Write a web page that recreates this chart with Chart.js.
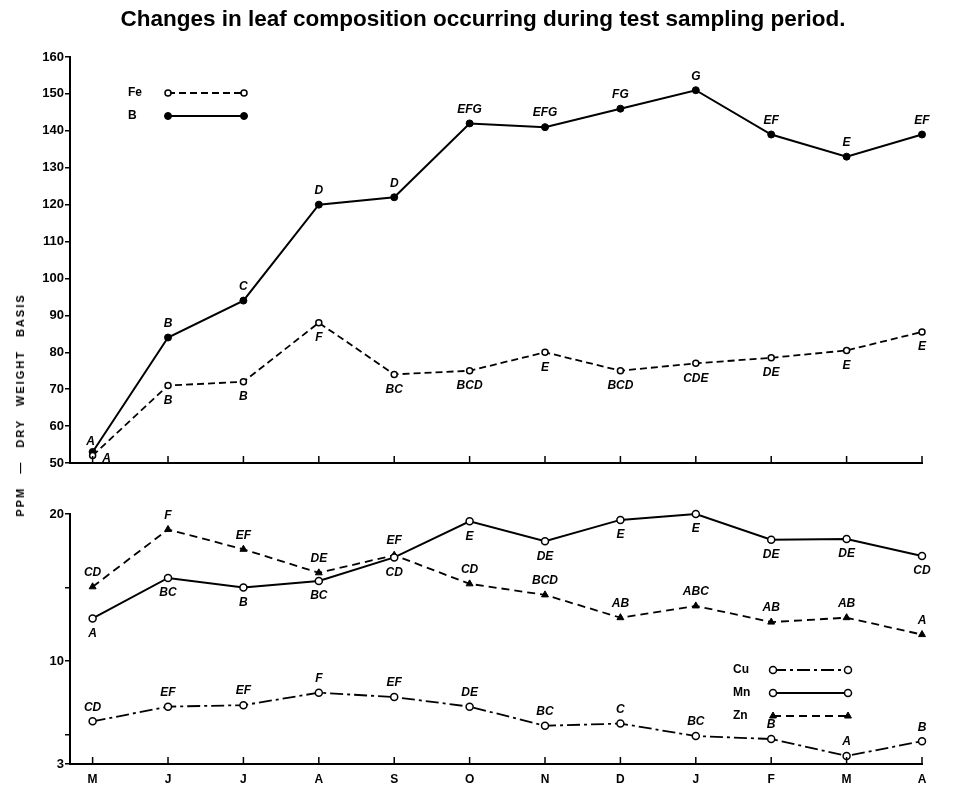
<!DOCTYPE html>
<html>
<head>
<meta charset="utf-8">
<script src="https://cdn.jsdelivr.net/npm/chart.js@4.4.1/dist/chart.umd.min.js"></script>
<style>
  body { margin: 0; background: #fff; }
  #wrap { position: relative; width: 954px; height: 788px; background: #fff; overflow: hidden; }
  #top { position: absolute; left: 0; top: 0; }
  #bottom { position: absolute; left: 0; top: 480px; }
  #title { position: absolute; left: 0; width: 966px; top: 6px; text-align: center;
           font: bold 22.5px 'Liberation Sans', Arial, sans-serif; color: #000; }
  #ytitle { position: absolute; left: 20px; top: 405px; transform: translate(-50%, -50%) rotate(-90deg);
            white-space: nowrap; font: bold 11px 'Liberation Sans', Arial, sans-serif;
            letter-spacing: 2px; word-spacing: 8px; color: #000; }
</style>
</head>
<body>
<div id="wrap">
  <canvas id="top" width="954" height="480"></canvas>
  <canvas id="bottom" width="954" height="308"></canvas>
  <div id="title">Changes in leaf composition occurring during test sampling period.</div>
  <div id="ytitle">PPM — DRY WEIGHT BASIS</div>
</div>
<script>
const months = ['M', 'J', 'J', 'A', 'S', 'O', 'N', 'D', 'J', 'F', 'M', 'A'];

// upper panel
const feValues = [52, 71, 72, 88, 74, 75, 80, 75, 77, 78.5, 80.5, 85.5];
const feLetters = ['A', 'B', 'B', 'F', 'BC', 'BCD', 'E', 'BCD', 'CDE', 'DE', 'E', 'E'];
const bValues = [53, 84, 94, 120, 122, 142, 141, 146, 151, 139, 133, 139];
const bLetters = ['A', 'B', 'C', 'D', 'D', 'EFG', 'EFG', 'FG', 'G', 'EF', 'E', 'EF'];
const upperTicks = [50, 60, 70, 80, 90, 100, 110, 120, 130, 140, 150, 160];
const upperTickLabels = ['50', '60', '70', '80', '90', '100', '110', '120', '130', '140', '150', '160'];

// lower panel
const cuValues = [5.9, 6.9, 7.0, 7.85, 7.55, 6.9, 5.6, 5.75, 4.9, 4.7, 3.55, 4.55];
const cuLetters = ['CD', 'EF', 'EF', 'F', 'EF', 'DE', 'BC', 'C', 'BC', 'B', 'A', 'B'];
const mnValues = [12.9, 15.65, 15.0, 15.45, 17.05, 19.5, 18.15, 19.6, 20.0, 18.25, 18.3, 17.15];
const mnLetters = ['A', 'BC', 'B', 'BC', 'CD', 'E', 'DE', 'E', 'E', 'DE', 'DE', 'CD'];
const znValues = [15.05, 18.95, 17.6, 16.0, 17.2, 15.25, 14.5, 12.95, 13.75, 12.65, 12.95, 11.8];
const znLetters = ['CD', 'F', 'EF', 'DE', 'EF', 'CD', 'BCD', 'AB', 'ABC', 'AB', 'AB', 'A'];
const lowerTicks = [3, 5, 10, 15, 20];
const lowerTickLabels = ['3', '', '10', '', '20'];

const FONT = "'Liberation Sans', Arial, sans-serif";
const pts = vals => vals.map((v, i) => ({ x: i, y: v }));

// letters of significance next to each point
const letterPlugin = {
  id: 'letters',
  afterDatasetsDraw(chart) {
    const ctx = chart.ctx;
    ctx.save();
    ctx.font = 'italic bold 12px ' + FONT;
    ctx.fillStyle = '#000';
    ctx.textAlign = 'center';
    ctx.textBaseline = 'middle';
    chart.data.datasets.forEach((ds, i) => {
      if (!ds.letters) return;
      chart.getDatasetMeta(i).data.forEach((p, j) => {
        const off = (ds.letterShift && ds.letterShift[j]) || [0, ds.letterSide === 'below' ? 15 : -14];
        ctx.fillText(ds.letters[j], p.x + off[0], p.y + off[1]);
      });
    });
    ctx.restore();
  }
};

// small tick marks pointing up from the month axis
const innerTicks = {
  id: 'innerTicks',
  afterDraw(chart) {
    const x = chart.scales.x, ctx = chart.ctx, b = chart.chartArea.bottom;
    ctx.save();
    ctx.strokeStyle = '#000';
    ctx.lineWidth = 1.5;
    x.ticks.forEach(t => {
      const px = x.getPixelForValue(t.value);
      ctx.beginPath();
      ctx.moveTo(px, b);
      ctx.lineTo(px, b - 7);
      ctx.stroke();
    });
    ctx.restore();
  }
};

// key drawn as a sample line with a marker at each end
const keyPlugin = {
  id: 'key',
  afterDraw(chart, args, opts) {
    const ctx = chart.ctx;
    ctx.save();
    chart.data.datasets.forEach((ds, i) => {
      const y = opts.y + i * opts.gap;
      ctx.font = 'bold 12px ' + FONT;
      ctx.fillStyle = '#000';
      ctx.textAlign = 'left';
      ctx.textBaseline = 'middle';
      ctx.fillText(ds.label, opts.x, y);
      ctx.strokeStyle = '#000';
      ctx.lineWidth = ds.borderWidth;
      ctx.setLineDash(ds.borderDash || []);
      ctx.beginPath();
      ctx.moveTo(opts.x1, y);
      ctx.lineTo(opts.x2, y);
      ctx.stroke();
      ctx.setLineDash([]);
      [opts.x1, opts.x2].forEach(px => {
        ctx.fillStyle = ds.pointBackgroundColor;
        ctx.strokeStyle = '#000';
        ctx.lineWidth = ds.pointBorderWidth;
        Chart.helpers.drawPoint(ctx, { pointStyle: ds.pointStyle, radius: ds.pointRadius,
          borderWidth: ds.pointBorderWidth, rotation: 0 }, px, y);
      });
    });
    ctx.restore();
  }
};

function makeOptions(yMin, yMax, yTicks, yLabels, padTop, xHeight, showMonths, key) {
  return {
    responsive: false,
    animation: false,
    layout: { padding: { top: padTop, right: 32, left: 0, bottom: 0 } },
    plugins: { legend: { display: false }, tooltip: { enabled: false }, key: key },
    scales: {
      x: {
        type: 'linear', min: -0.3, max: 11,
        afterBuildTicks: s => { s.ticks = months.map((m, i) => ({ value: i })); },
        afterFit: s => { s.height = xHeight; },
        grid: { drawOnChartArea: false, drawTicks: false },
        border: { display: true, color: '#000', width: 2 },
        ticks: { display: showMonths, callback: (v, i) => months[i], padding: 8,
                 autoSkip: false, maxRotation: 0, color: '#000', font: { family: FONT, size: 12, weight: 'bold' } }
      },
      y: {
        min: yMin, max: yMax,
        afterBuildTicks: s => { s.ticks = yTicks.map(v => ({ value: v })); },
        afterFit: s => { s.width = 70; },
        grid: { drawOnChartArea: false, drawTicks: true, tickLength: 5, color: '#000', lineWidth: 1.5 },
        border: { display: true, color: '#000', width: 2 },
        ticks: { callback: (v, i) => yLabels[i], padding: 1, autoSkip: false,
                 color: '#000', font: { family: FONT, size: 13, weight: 'bold' } }
      }
    }
  };
}

new Chart(document.getElementById('top'), {
  type: 'line',
  data: {
    datasets: [
      { label: 'Fe', data: pts(feValues), letters: feLetters, letterSide: 'below',
        letterShift: [[14, 3]], clip: false,
        borderColor: '#000', borderWidth: 1.8, borderDash: [7, 4], tension: 0,
        pointStyle: 'circle', pointRadius: 3, pointBorderWidth: 1.5,
        pointBackgroundColor: '#fff', pointBorderColor: '#000' },
      { label: 'B', data: pts(bValues), letters: bLetters, letterSide: 'above',
        letterShift: [[-2, -10]], clip: false,
        borderColor: '#000', borderWidth: 2, tension: 0,
        pointStyle: 'circle', pointRadius: 3.5, pointBorderWidth: 1,
        pointBackgroundColor: '#000', pointBorderColor: '#000' }
    ]
  },
  options: makeOptions(50, 160, upperTicks, upperTickLabels, 57, 17, false,
    { x: 128, y: 93, gap: 23, x1: 168, x2: 244 }),
  plugins: [letterPlugin, innerTicks, keyPlugin]
});

new Chart(document.getElementById('bottom'), {
  type: 'line',
  data: {
    datasets: [
      { label: 'Cu', data: pts(cuValues), letters: cuLetters, letterSide: 'above', clip: false,
        borderColor: '#000', borderWidth: 1.8, borderDash: [13, 4, 3, 4], tension: 0,
        pointStyle: 'circle', pointRadius: 3.5, pointBorderWidth: 1.5,
        pointBackgroundColor: '#fff', pointBorderColor: '#000' },
      { label: 'Mn', data: pts(mnValues), letters: mnLetters, letterSide: 'below', clip: false,
        borderColor: '#000', borderWidth: 2, tension: 0,
        pointStyle: 'circle', pointRadius: 3.5, pointBorderWidth: 1.5,
        pointBackgroundColor: '#fff', pointBorderColor: '#000' },
      { label: 'Zn', data: pts(znValues), letters: znLetters, letterSide: 'above', clip: false,
        borderColor: '#000', borderWidth: 1.8, borderDash: [8, 5], tension: 0,
        pointStyle: 'triangle', pointRadius: 4, pointBorderWidth: 1,
        pointBackgroundColor: '#000', pointBorderColor: '#000' }
    ]
  },
  options: makeOptions(3, 20, lowerTicks, lowerTickLabels, 34, 24, true,
    { x: 733, y: 190, gap: 23, x1: 773, x2: 848 }),
  plugins: [letterPlugin, innerTicks, keyPlugin]
});
</script>
</body>
</html>
